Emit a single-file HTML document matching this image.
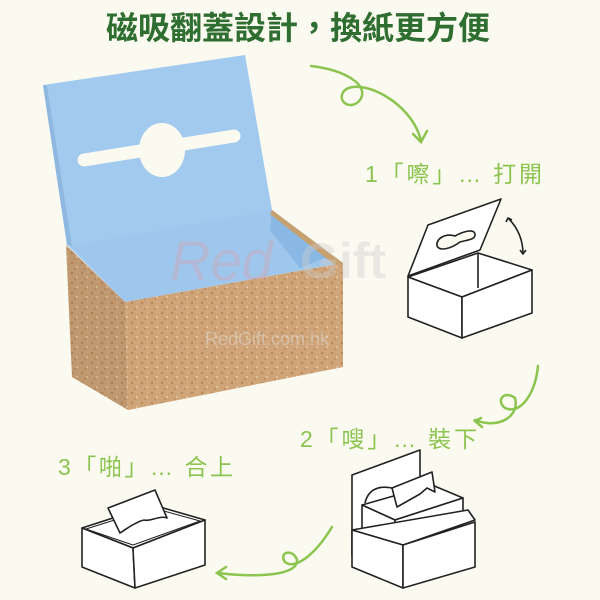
<!DOCTYPE html>
<html><head><meta charset="utf-8"><style>
html,body{margin:0;padding:0;background:#fbfaf0;}
svg{display:block}
text{font-family:"Liberation Sans","Noto Sans CJK TC",sans-serif}
</style></head><body>
<svg width="600" height="600" viewBox="0 0 600 600" xmlns="http://www.w3.org/2000/svg">
<defs>
<pattern id="cork" width="10" height="10" patternUnits="userSpaceOnUse">
<rect width="10" height="10" fill="#cfa478"/>
<circle cx="2" cy="3" r="1.2" fill="#b98a5c"/>
<circle cx="7" cy="7" r="1.1" fill="#e2c39b"/>
<circle cx="5" cy="9" r="0.7" fill="#a97a4e"/>
<circle cx="8" cy="2" r="0.8" fill="#dcb78b"/>
</pattern>
</defs>
<rect width="600" height="600" fill="#fbfaf0"/>
<text x="298" y="39" text-anchor="middle" font-size="32" font-weight="bold" fill="#2f6e31">磁吸翻蓋設計，換紙更方便</text>

<!-- main box -->
<polygon points="43,85 245,55 272,210 343,263 125,302 67,245" fill="#a2caef"/>
<polygon points="43,85 47,86 72,246 67,245" fill="#8fb8e0"/>
<polygon points="72,246 272,210 340,262 125,302" fill="#9fc6ec"/>
<polygon points="272,210 330,256 300,268 270,230" fill="#8ab8e4"/>
<polygon points="272,210 343,263 336,266 270,214" fill="#c7a070"/>
<ellipse cx="162" cy="150" rx="23" ry="27" fill="#fbfaf0"/>
<line x1="84" y1="160" x2="234" y2="136" stroke="#fbfaf0" stroke-width="13" stroke-linecap="round"/>
<polygon points="66,245 125,302 128,410 72,377" fill="url(#cork)"/>
<polygon points="66,245 125,302 128,410 72,377" fill="#000" opacity="0.07"/>
<polygon points="125,302 343,263 343,367 128,410" fill="url(#cork)"/>

<!-- watermark -->
<text x="170" y="280" font-size="56" font-style="italic" fill="#d8a0a8" opacity="0.35">Red</text>
<text x="300" y="278" font-size="50" font-weight="bold" fill="#ccc" opacity="0.4">Gift</text>
<text x="205" y="345" font-size="18" fill="#ddd" opacity="0.5">RedGift.com.hk</text>

<!-- green arrows -->
<g fill="none" stroke="#8cc450" stroke-width="2.5" stroke-linecap="round">
<path d="M311,66 C345,70 370,85 360,100 C350,112 335,100 345,90 C360,78 410,100 421,140"/>
<path d="M413,134 L421,142 L427,131"/>
<path d="M538,366 C535,395 520,415 505,408 C495,400 505,390 515,398 C520,415 500,430 475,420"/>
<path d="M481,418 L475,421 L482,427"/>
<path d="M332,527 C315,555 295,570 285,562 C278,552 293,548 297,560 C298,575 260,578 218,573"/>
<path d="M226,567 L217,573 L226,579"/>
</g>

<g font-size="23" fill="#8cc450">
<text x="365" y="182" textLength="177">1「嚓」… 打開</text>
<text x="300" y="447" textLength="177">2「嗖」… 裝下</text>
<text x="58" y="475" textLength="175">3「啪」… 合上</text>
</g>

<!-- line drawings -->
<g fill="#fff" stroke="#222" stroke-width="1.6" stroke-linejoin="round">
<!-- box 1 -->
<polygon points="408,277 478,253 532,270 462,297"/>
<polygon points="408,277 462,297 462,338 408,317"/>
<polygon points="462,297 532,270 532,313 462,338"/>
<line x1="478" y1="253" x2="478" y2="288"/>
<polygon points="428,225 501,199 480,250 408,276"/>
<path d="M437,246 C436,238 446,233 455,236 C462,232 474,228 475,234 C476,240 466,240 460,242 C452,248 440,252 437,246 Z" fill="#fbfaf0"/>
<path d="M508,218 C518,228 523,240 523,254" fill="none"/>
<path d="M506,222 L508,218 L512,220 M520,250 L523,254 L526,250" fill="none"/>
<!-- box 2 -->
<polygon points="352,475 420,450 420,530 352,555"/>
<polygon points="362,505 432,485 463,498 395,520"/>
<polygon points="362,505 395,520 395,545 362,535"/>
<polygon points="395,520 463,498 463,525 395,545"/>
<path d="M365,503 C368,490 378,485 392,488" fill="none"/>
<polygon points="392,488 432,472 435,492 427,488 420,494 397,507"/>
<polygon points="352,530 468,510 475,520 403,545"/>
<polygon points="352,530 403,545 403,588 352,567"/>
<polygon points="403,545 475,522 475,567 403,588"/>
<!-- box 3 -->
<polygon points="82,528 153,505 205,520 133,548"/>
<polygon points="86,529 153,508 200,521 133,545" fill="none" stroke-width="1"/>
<polygon points="82,528 133,548 135,588 82,567"/>
<polygon points="133,548 205,520 205,565 135,588"/>
<path d="M108,508 L155,490 L167,518 C160,515 150,522 144,520 C135,522 125,530 120,533 Z"/>
</g>
</svg>
</body></html>
